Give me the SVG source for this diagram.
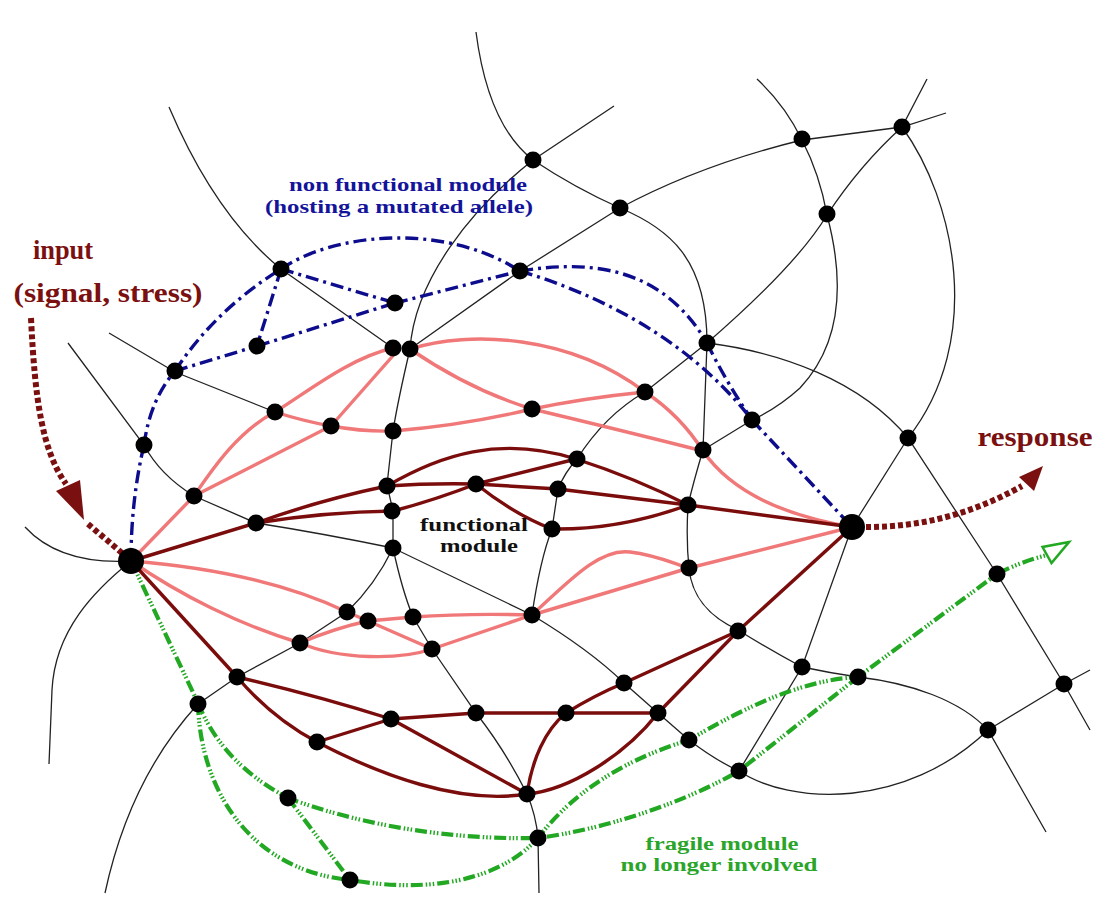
<svg xmlns="http://www.w3.org/2000/svg" width="1096" height="917" viewBox="0 0 1096 917">
<style>
.bk{fill:none;stroke:#222;stroke-width:1.3}
.pk{fill:none;stroke:#f07878;stroke-width:3.4}
.dr{fill:none;stroke:#7a0c0c;stroke-width:3.4}
.bl{fill:none;stroke:#0c0c8c;stroke-width:3.4;stroke-dasharray:13 5 3 5}
.gr{fill:none;stroke:#22a822;stroke-width:4.2;stroke-dasharray:12 3 1.5 2 1.5 2 1.5 3}
.dot{fill:none;stroke:#7a1010;stroke-width:6;stroke-dasharray:5 3}
.nd circle{fill:#000}
.t{font-family:"Liberation Serif","Times New Roman",serif;font-weight:bold;text-anchor:middle}
</style>
<rect width="1096" height="917" fill="#fff"/>
<g id="connectors">
<g id="background-network">
<path class="bk" d="M169,107 Q215,215 281,269 L393,348"/>
<path class="bk" d="M476,32 Q488,125 533,160 Q575,188 620,208 C668,228 707,258 707,343 L703,450 Q694,480 688,505 Q686,540 689,568 C692,600 712,618 738,630 Q770,650 802,667 Q830,673 858,677 C910,683 960,700 988,730 L1046,832"/>
<path class="bk" d="M614,106 L533,160 C470,210 415,280 410,349 Q398,400 393,431 L387,485 L393,511 L393,548 Q402,590 413,617 L432,649 L476,713 Q505,750 527,794 Q536,815 538,838 L539,893"/>
<path class="bk" d="M410,349 L520,271 L620,208 Q700,165 802,140 L902,127 L946,113"/>
<path class="bk" d="M757,79 Q785,105 802,140 Q820,175 827,215 C843,275 845,340 800,388 Q778,408 752,420 L703,450"/>
<path class="bk" d="M532,615 Q540,560 552,529 L558,489 Q565,472 577,459 Q605,415 645,392 L707,343 C745,310 800,260 827,215 Q860,165 902,127 L927,79"/>
<path class="bk" d="M707,343 C780,352 860,380 908,438 L997,574 L1064,684 L1090,730"/>
<path class="bk" d="M902,127 C955,200 985,340 908,438 L852,527 L802,667 L739,771"/>
<path class="bk" d="M68,343 L144,445 Q160,475 194,496 L256,523 Q320,533 393,548 L532,615 Q590,650 624,683 L658,713 L689,740 Q715,760 739,771 C790,805 905,810 988,730 L1064,684 L1090,670"/>
<path class="bk" d="M109,333 L175,372 L275,412"/>
<path class="bk" d="M393,548 Q375,585 347,612 L300,643 L237,677 L198,704 C165,740 125,800 105,893"/>
<path class="bk" d="M25,527 Q60,565 131,561 C95,590 55,630 52,690 L49,764"/>
</g>
<g id="weak-links">
<path class="pk" d="M131,561 L194,496"/>
<path class="pk" d="M194,496 C215,465 240,430 275,412 C310,390 350,358 393,348"/>
<path class="pk" d="M194,496 L331,426 L398,350"/>
<path class="pk" d="M275,412 Q303,421 331,426 Q365,432 393,431 Q465,425 532,409 Q585,398 645,392"/>
<path class="pk" d="M410,349 Q470,390 532,409 Q620,430 703,451"/>
<path class="pk" d="M410,349 C470,330 570,335 645,392"/>
<path class="pk" d="M645,392 Q680,415 703,451"/>
<path class="pk" d="M703,451 C730,490 780,515 852,527"/>
<path class="pk" d="M131,561 C220,568 290,585 347,612 L368,621 L432,649"/>
<path class="pk" d="M131,561 C180,595 240,625 300,643"/>
<path class="pk" d="M300,643 Q335,628 368,621 L413,617 Q470,613 532,615"/>
<path class="pk" d="M300,643 C340,660 400,660 432,649"/>
<path class="pk" d="M432,649 L532,615"/>
<path class="pk" d="M532,615 C570,580 600,548 630,552 C655,555 670,562 689,568"/>
<path class="pk" d="M532,615 L689,568"/>
<path class="pk" d="M689,568 L852,527"/>
</g>
<g id="strong-links">
<path class="dr" d="M131,561 L256,523"/>
<path class="dr" d="M256,523 Q320,500 387,486"/>
<path class="dr" d="M256,523 Q325,512 393,511"/>
<path class="dr" d="M387,486 Q430,483 476,484"/>
<path class="dr" d="M387,486 C440,455 500,435 576,459"/>
<path class="dr" d="M393,511 Q435,500 476,484"/>
<path class="dr" d="M476,484 L576,459"/>
<path class="dr" d="M476,484 L558,489 L688,505"/>
<path class="dr" d="M476,484 Q515,515 552,529 Q620,530 688,505"/>
<path class="dr" d="M576,459 Q635,478 688,505"/>
<path class="dr" d="M688,505 L852,527"/>
<path class="dr" d="M131,561 L237,677"/>
<path class="dr" d="M237,677 Q315,695 391,719"/>
<path class="dr" d="M237,677 Q272,718 317,742"/>
<path class="dr" d="M317,742 L391,719"/>
<path class="dr" d="M391,719 L476,713 L566,713 L658,713"/>
<path class="dr" d="M391,719 L527,794"/>
<path class="dr" d="M317,742 C380,775 460,805 527,794"/>
<path class="dr" d="M527,794 C532,760 545,730 566,713"/>
<path class="dr" d="M566,713 Q595,695 624,683 L738,631"/>
<path class="dr" d="M658,713 L738,631"/>
<path class="dr" d="M527,794 C570,790 625,755 658,713"/>
<path class="dr" d="M738,631 L852,527"/>
</g>
<g id="non-functional-links">
<path class="bl" d="M131,561 Q131,500 144,445"/>
<path class="bl" d="M144,445 Q150,400 175,371"/>
<path class="bl" d="M175,371 Q215,310 281,269"/>
<path class="bl" d="M281,269 C330,235 440,220 520,271"/>
<path class="bl" d="M520,271 C600,258 665,272 707,343"/>
<path class="bl" d="M707,343 Q725,380 752,420"/>
<path class="bl" d="M520,271 C600,295 690,340 752,420"/>
<path class="bl" d="M281,269 L395,303"/>
<path class="bl" d="M395,303 L520,271"/>
<path class="bl" d="M281,269 L257,346"/>
<path class="bl" d="M257,346 L395,303"/>
<path class="bl" d="M175,371 L257,346"/>
<path class="bl" d="M752,420 L852,527"/>
</g>
<g id="fragile-links">
<path class="gr" d="M131,561 L198,703"/>
<path class="gr" d="M198,703 C215,745 245,775 288,798 C360,825 450,840 538,838 C600,830 680,805 739,771 L858,677 L997,574 Q1020,562 1047,555"/>
<path class="gr" d="M198,703 C200,790 250,870 350,880 C420,892 495,885 538,838 Q590,770 689,740 C740,710 800,680 858,677"/>
<path class="gr" d="M288,798 L350,880"/>
<polygon points="1069,542 1042.5,547 1051.5,563" fill="#fff" stroke="#22a822" stroke-width="2.5"/>
</g>
<g id="io-arrows">
<path class="dot" d="M31,318 C35,400 42,450 66,484"/>
<polygon points="84,520 56,491 80,480" fill="#7a1010"/>
<path class="dot" d="M88,524 L122,553"/>
<path class="dot" d="M866,527 C920,527 970,515 1022,486"/>
<polygon points="1043,466 1034,491 1019,477" fill="#7a1010"/>
</g>
</g>
<g id="nodes" class="nd">
<g id="hub-input"><circle cx="131" cy="561" r="13"/></g>
<g id="hub-response"><circle cx="852" cy="527" r="13"/></g>
<g id="n1"><circle cx="533" cy="160" r="8.5"/></g>
<g id="n2"><circle cx="802" cy="139" r="8.5"/></g>
<g id="n3"><circle cx="902" cy="127" r="8.5"/></g>
<g id="n4"><circle cx="620" cy="208" r="8.5"/></g>
<g id="n5"><circle cx="827" cy="214" r="8.5"/></g>
<g id="n6"><circle cx="281" cy="269" r="8.5"/></g>
<g id="n7"><circle cx="520" cy="271" r="8.5"/></g>
<g id="n8"><circle cx="395" cy="303" r="8.5"/></g>
<g id="n9"><circle cx="257" cy="346" r="8.5"/></g>
<g id="n10"><circle cx="393" cy="348" r="8.5"/></g>
<g id="n11"><circle cx="410" cy="349" r="8.5"/></g>
<g id="n12"><circle cx="707" cy="343" r="8.5"/></g>
<g id="n13"><circle cx="175" cy="371" r="8.5"/></g>
<g id="n14"><circle cx="275" cy="412" r="8.5"/></g>
<g id="n15"><circle cx="331" cy="426" r="8.5"/></g>
<g id="n16"><circle cx="532" cy="409" r="8.5"/></g>
<g id="n17"><circle cx="645" cy="392" r="8.5"/></g>
<g id="n18"><circle cx="393" cy="431" r="8.5"/></g>
<g id="n19"><circle cx="752" cy="420" r="8.5"/></g>
<g id="n20"><circle cx="703" cy="450" r="8.5"/></g>
<g id="n21"><circle cx="908" cy="438" r="8.5"/></g>
<g id="n22"><circle cx="144" cy="445" r="8.5"/></g>
<g id="n23"><circle cx="577" cy="459" r="8.5"/></g>
<g id="n24"><circle cx="387" cy="486" r="8.5"/></g>
<g id="n25"><circle cx="476" cy="484" r="8.5"/></g>
<g id="n26"><circle cx="558" cy="489" r="8.5"/></g>
<g id="n27"><circle cx="194" cy="496" r="8.5"/></g>
<g id="n28"><circle cx="392" cy="511" r="8.5"/></g>
<g id="n29"><circle cx="688" cy="505" r="8.5"/></g>
<g id="n30"><circle cx="256" cy="523" r="8.5"/></g>
<g id="n31"><circle cx="552" cy="529" r="8.5"/></g>
<g id="n32"><circle cx="393" cy="548" r="8.5"/></g>
<g id="n33"><circle cx="689" cy="568" r="8.5"/></g>
<g id="n34"><circle cx="997" cy="574" r="8.5"/></g>
<g id="n35"><circle cx="347" cy="612" r="8.5"/></g>
<g id="n36"><circle cx="368" cy="621" r="8.5"/></g>
<g id="n37"><circle cx="413" cy="617" r="8.5"/></g>
<g id="n38"><circle cx="532" cy="615" r="8.5"/></g>
<g id="n39"><circle cx="300" cy="643" r="8.5"/></g>
<g id="n40"><circle cx="432" cy="649" r="8.5"/></g>
<g id="n41"><circle cx="738" cy="631" r="8.5"/></g>
<g id="n42"><circle cx="237" cy="677" r="8.5"/></g>
<g id="n43"><circle cx="802" cy="667" r="8.5"/></g>
<g id="n44"><circle cx="858" cy="677" r="8.5"/></g>
<g id="n45"><circle cx="1064" cy="684" r="8.5"/></g>
<g id="n46"><circle cx="198" cy="704" r="8.5"/></g>
<g id="n47"><circle cx="624" cy="683" r="8.5"/></g>
<g id="n48"><circle cx="476" cy="713" r="8.5"/></g>
<g id="n49"><circle cx="566" cy="713" r="8.5"/></g>
<g id="n50"><circle cx="658" cy="713" r="8.5"/></g>
<g id="n51"><circle cx="391" cy="719" r="8.5"/></g>
<g id="n52"><circle cx="317" cy="742" r="8.5"/></g>
<g id="n53"><circle cx="988" cy="730" r="8.5"/></g>
<g id="n54"><circle cx="689" cy="740" r="8.5"/></g>
<g id="n55"><circle cx="739" cy="771" r="8.5"/></g>
<g id="n56"><circle cx="527" cy="794" r="8.5"/></g>
<g id="n57"><circle cx="288" cy="798" r="8.5"/></g>
<g id="n58"><circle cx="538" cy="838" r="8.5"/></g>
<g id="n59"><circle cx="350" cy="880" r="8.5"/></g>
</g>
<g id="labels">
<g id="label-input" fill="#7a1010">
<text class="t" x="63" y="259" font-size="28" textLength="60" lengthAdjust="spacingAndGlyphs">input</text>
<text class="t" x="108" y="302" font-size="28" textLength="189" lengthAdjust="spacingAndGlyphs">(signal, stress)</text>
</g>
<g id="label-nonfunctional" fill="#14149a">
<text class="t" x="408" y="191" font-size="19" textLength="238" lengthAdjust="spacingAndGlyphs">non functional module</text>
<text class="t" x="399" y="213" font-size="19" textLength="268" lengthAdjust="spacingAndGlyphs">(hosting a mutated allele)</text>
</g>
<g id="label-response" fill="#7a1010">
<text class="t" x="1035" y="446" font-size="28" textLength="115" lengthAdjust="spacingAndGlyphs">response</text>
</g>
<g id="label-functional" fill="#111">
<text class="t" x="474" y="531" font-size="18.5" textLength="108" lengthAdjust="spacingAndGlyphs">functional</text>
<text class="t" x="479" y="552" font-size="18.5" textLength="78" lengthAdjust="spacingAndGlyphs">module</text>
</g>
<g id="label-fragile" fill="#2aa52a">
<text class="t" x="722" y="850" font-size="19" textLength="153" lengthAdjust="spacingAndGlyphs">fragile module</text>
<text class="t" x="719" y="871" font-size="19" textLength="197" lengthAdjust="spacingAndGlyphs">no longer involved</text>
</g>
</g>
</svg>
